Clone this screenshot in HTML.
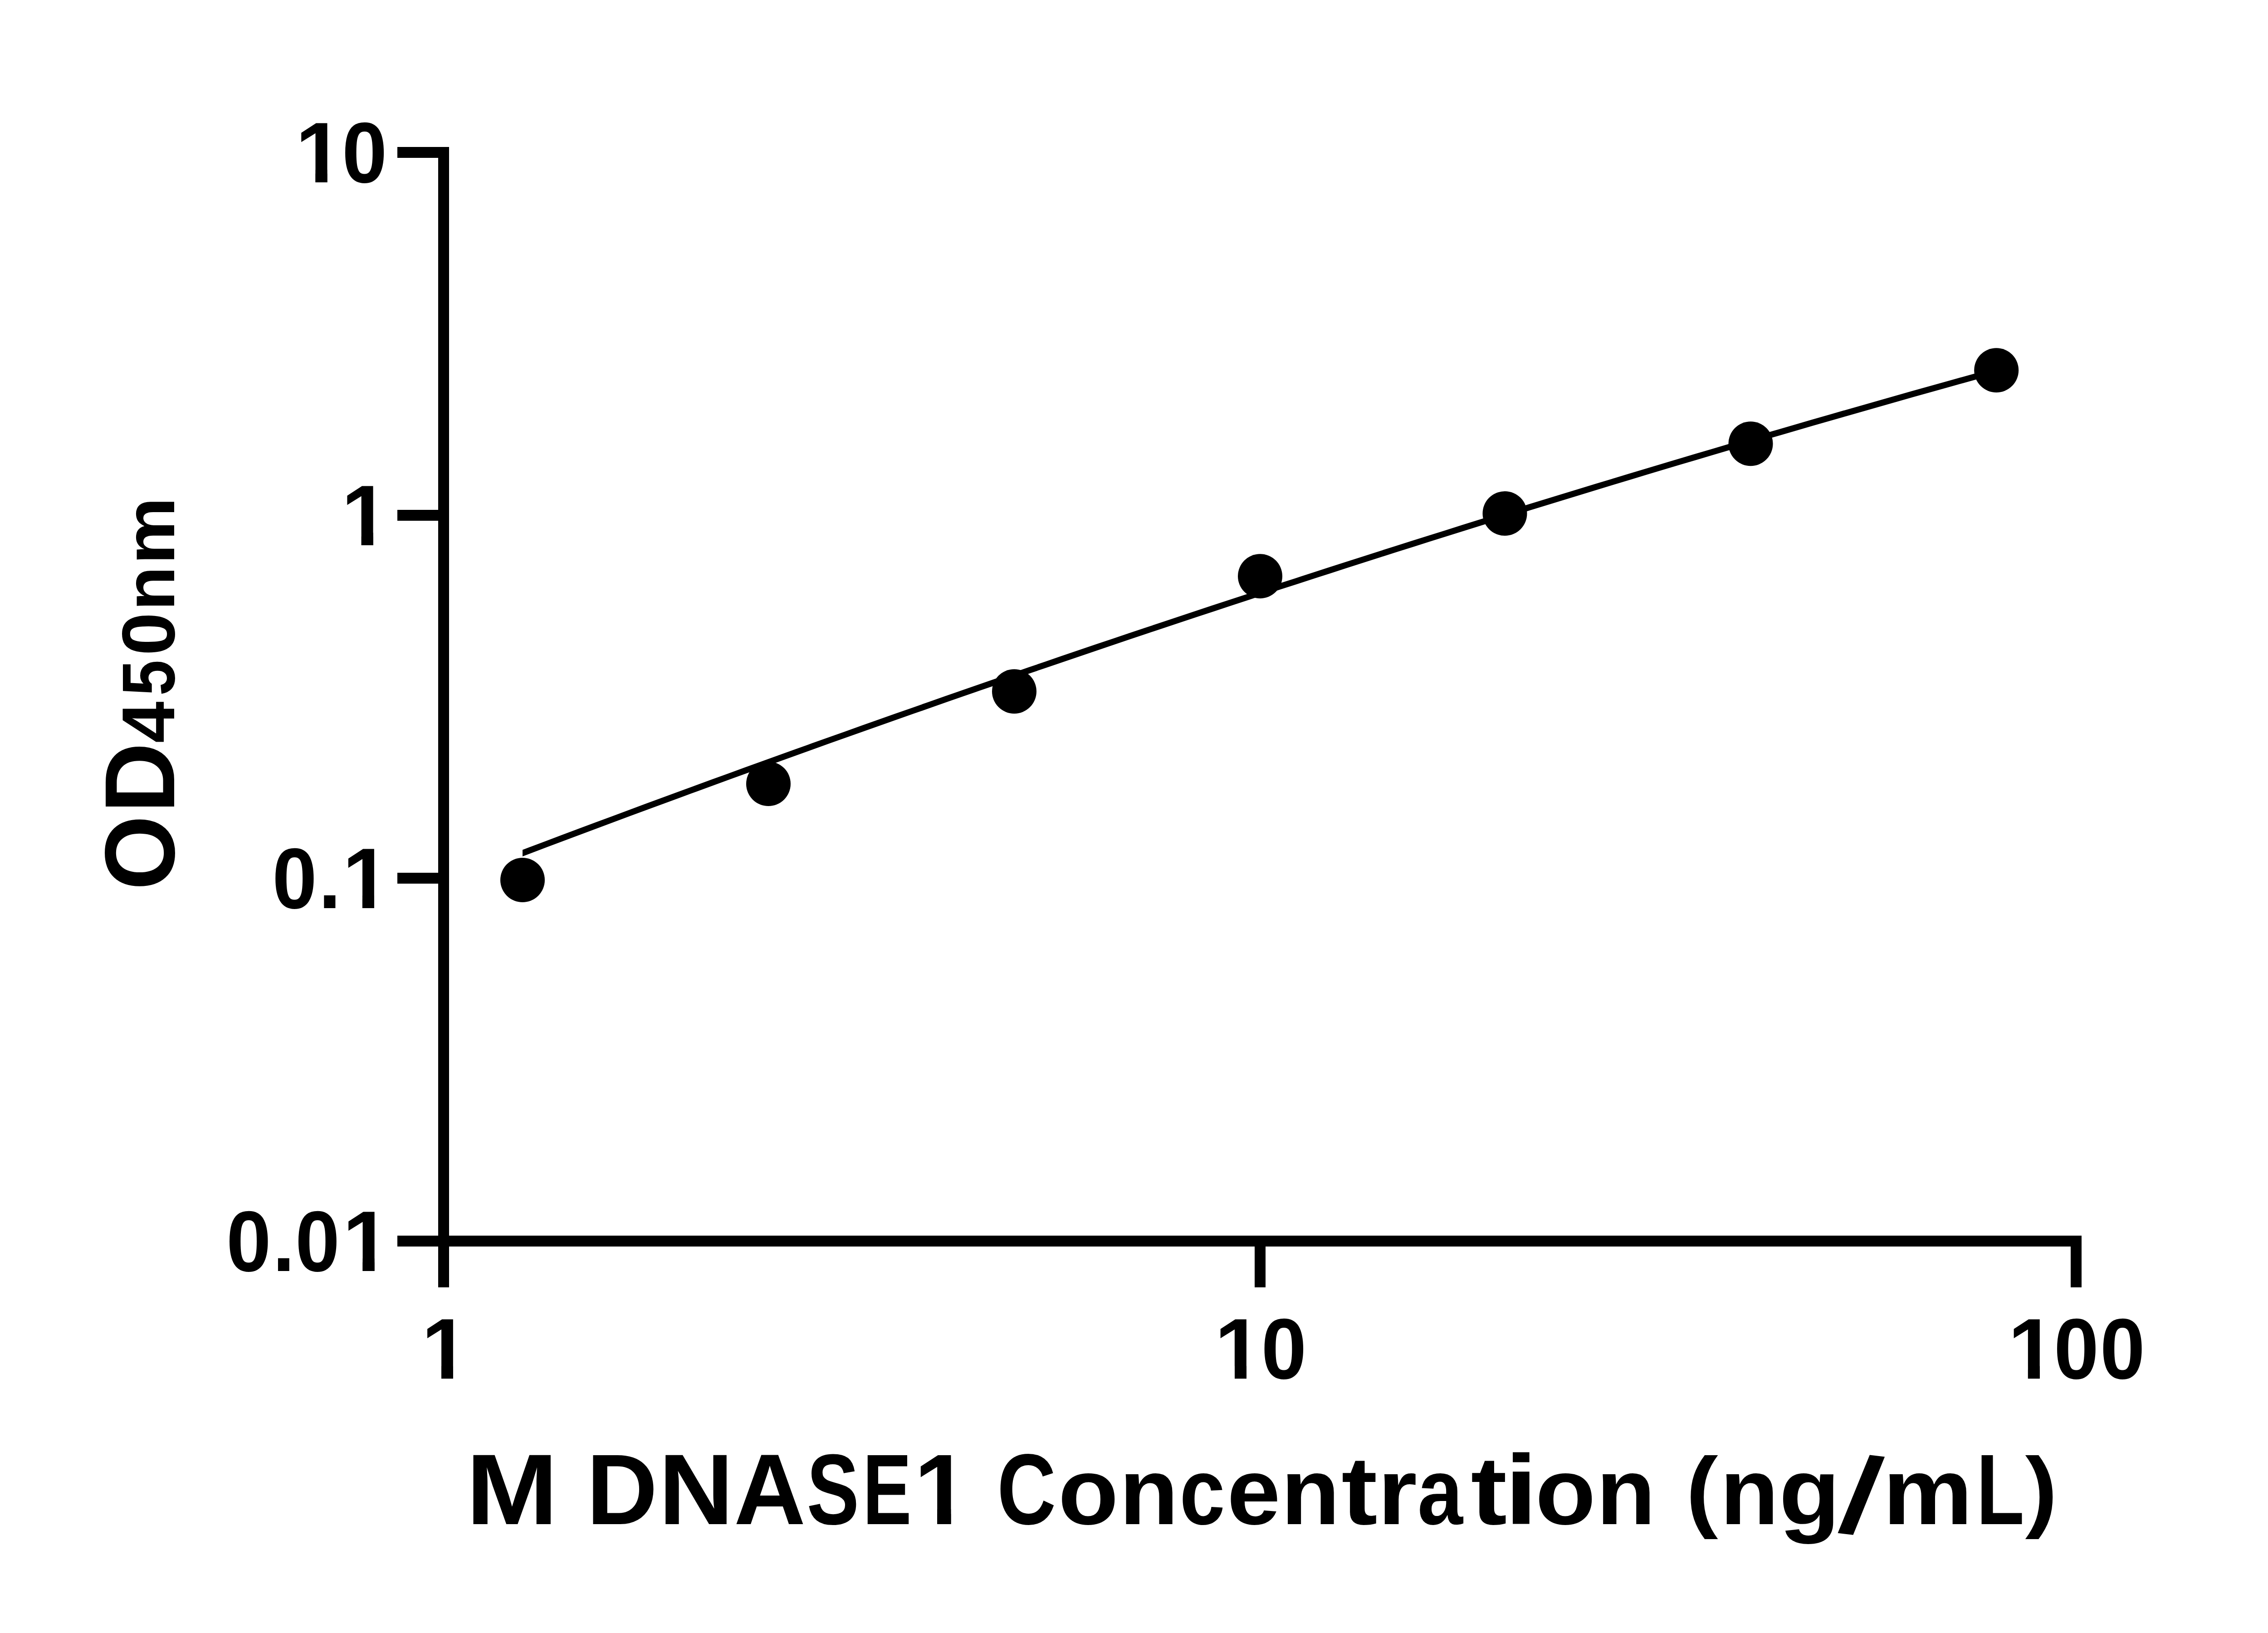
<!DOCTYPE html>
<html><head><meta charset="utf-8"><title>M DNASE1 standard curve</title><style>
html,body{margin:0;padding:0;background:#fff;overflow:hidden;}
svg{display:block;}
text{font-family:"Liberation Sans",sans-serif;font-weight:bold;fill:#000;font-kerning:none;}
</style></head><body>
<svg width="5130" height="3600" viewBox="0 0 5130 3600">
<rect x="0" y="0" width="5130" height="3600" fill="#fff"/>
<rect x="966" y="324" width="24" height="2514" fill="#000"/>
<rect x="876" y="324" width="114" height="24" fill="#000"/>
<rect x="876" y="1124" width="114" height="24" fill="#000"/>
<rect x="876" y="1924" width="114" height="24" fill="#000"/>
<rect x="876" y="2724" width="114" height="24" fill="#000"/>
<rect x="876" y="2724" width="3713" height="24" fill="#000"/>
<rect x="966" y="2724" width="24" height="114" fill="#000"/>
<rect x="2766" y="2724" width="24" height="114" fill="#000"/>
<rect x="4565" y="2724" width="24" height="114" fill="#000"/>
<defs><clipPath id="cc"><rect x="1152" y="0" width="4000" height="3600"/></clipPath></defs>
<path d="M1130.0,1889.0 L1166.8,1875.1 L1203.5,1861.2 L1240.3,1847.4 L1277.0,1833.6 L1313.8,1819.9 L1350.5,1806.2 L1387.3,1792.5 L1424.0,1778.9 L1460.8,1765.4 L1497.5,1751.8 L1534.3,1738.4 L1571.0,1724.9 L1607.8,1711.5 L1644.5,1698.2 L1681.3,1684.9 L1718.0,1671.6 L1754.8,1658.4 L1791.6,1645.2 L1828.3,1632.0 L1865.1,1619.0 L1901.8,1605.9 L1938.6,1592.9 L1975.3,1579.9 L2012.1,1567.0 L2048.8,1554.1 L2085.6,1541.2 L2122.3,1528.4 L2159.1,1515.7 L2195.8,1503.0 L2232.6,1490.3 L2269.3,1477.7 L2306.1,1465.1 L2342.8,1452.5 L2379.6,1440.0 L2416.3,1427.5 L2453.1,1415.1 L2489.9,1402.7 L2526.6,1390.4 L2563.4,1378.1 L2600.1,1365.9 L2636.9,1353.6 L2673.6,1341.5 L2710.4,1329.3 L2747.1,1317.3 L2783.9,1305.2 L2820.6,1293.2 L2857.4,1281.3 L2894.1,1269.3 L2930.9,1257.5 L2967.6,1245.6 L3004.4,1233.9 L3041.1,1222.1 L3077.9,1210.4 L3114.7,1198.7 L3151.4,1187.1 L3188.2,1175.6 L3224.9,1164.0 L3261.7,1152.5 L3298.4,1141.1 L3335.2,1129.7 L3371.9,1118.3 L3408.7,1107.0 L3445.4,1095.7 L3482.2,1084.5 L3518.9,1073.3 L3555.7,1062.1 L3592.4,1051.0 L3629.2,1039.9 L3665.9,1028.9 L3702.7,1017.9 L3739.4,1007.0 L3776.2,996.1 L3813.0,985.2 L3849.7,974.4 L3886.5,963.6 L3923.2,952.9 L3960.0,942.2 L3996.7,931.6 L4033.5,921.0 L4070.2,910.4 L4107.0,899.9 L4143.7,889.4 L4180.5,879.0 L4217.2,868.6 L4254.0,858.2 L4290.7,847.9 L4327.5,837.7 L4364.2,827.4 L4401.0,817.3" fill="none" stroke="#000" stroke-width="13.5" stroke-linejoin="round" clip-path="url(#cc)"/>
<circle cx="1152" cy="1940" r="49" fill="#000"/>
<circle cx="1694" cy="1728" r="49" fill="#000"/>
<circle cx="2236" cy="1524.2" r="49" fill="#000"/>
<circle cx="2778" cy="1270.2" r="49" fill="#000"/>
<circle cx="3317.5" cy="1132" r="49" fill="#000"/>
<circle cx="3859.5" cy="978.2" r="49" fill="#000"/>
<circle cx="4401.2" cy="816.2" r="49" fill="#000"/>
<text><tspan x="651.24" y="402.00" font-size="189.5" textLength="105.44" lengthAdjust="spacingAndGlyphs">1</tspan><tspan x="754.03" y="402.00" font-size="189.5" textLength="99.40" lengthAdjust="spacingAndGlyphs">0</tspan></text>
<text><tspan x="752.56" y="1202.00" font-size="189.5" textLength="105.25" lengthAdjust="spacingAndGlyphs">1</tspan></text>
<text><tspan x="600.30" y="2002.00" font-size="189.5" textLength="98.46" lengthAdjust="spacingAndGlyphs">0</tspan><tspan x="702.33" y="2002.00" font-size="189.5" textLength="49.42" lengthAdjust="spacingAndGlyphs">.</tspan><tspan x="754.91" y="2002.00" font-size="189.5" textLength="104.88" lengthAdjust="spacingAndGlyphs">1</tspan></text>
<text><tspan x="498.88" y="2802.00" font-size="189.5" textLength="98.70" lengthAdjust="spacingAndGlyphs">0</tspan><tspan x="601.07" y="2802.00" font-size="189.5" textLength="48.83" lengthAdjust="spacingAndGlyphs">.</tspan><tspan x="651.03" y="2802.00" font-size="189.5" textLength="98.00" lengthAdjust="spacingAndGlyphs">0</tspan><tspan x="755.22" y="2802.00" font-size="189.5" textLength="105.62" lengthAdjust="spacingAndGlyphs">1</tspan></text>
<text><tspan x="929.15" y="3039.30" font-size="189.5" textLength="104.52" lengthAdjust="spacingAndGlyphs">1</tspan></text>
<text><tspan x="2677.86" y="3039.30" font-size="189.5" textLength="105.25" lengthAdjust="spacingAndGlyphs">1</tspan><tspan x="2780.59" y="3039.30" font-size="189.5" textLength="99.98" lengthAdjust="spacingAndGlyphs">0</tspan></text>
<text><tspan x="4426.79" y="3039.30" font-size="189.5" textLength="105.07" lengthAdjust="spacingAndGlyphs">1</tspan><tspan x="4527.96" y="3039.30" font-size="189.5" textLength="99.05" lengthAdjust="spacingAndGlyphs">0</tspan><tspan x="4629.65" y="3039.30" font-size="189.5" textLength="99.17" lengthAdjust="spacingAndGlyphs">0</tspan></text>
<text><tspan x="1027.30" y="3359.50" font-size="221" textLength="203.00" lengthAdjust="spacingAndGlyphs">M</tspan> <tspan x="1292.99" y="3359.50" font-size="221" textLength="156.61" lengthAdjust="spacingAndGlyphs">D</tspan><tspan x="1452.10" y="3359.50" font-size="221" textLength="165.22" lengthAdjust="spacingAndGlyphs">N</tspan><tspan x="1617.95" y="3359.50" font-size="221" textLength="158.13" lengthAdjust="spacingAndGlyphs">A</tspan><tspan x="1778.41" y="3359.50" font-size="221" textLength="115.56" lengthAdjust="spacingAndGlyphs">S</tspan><tspan x="1901.91" y="3359.50" font-size="221" textLength="107.59" lengthAdjust="spacingAndGlyphs">E</tspan><tspan x="2014.84" y="3359.50" font-size="221" textLength="122.55" lengthAdjust="spacingAndGlyphs">1</tspan> <tspan x="2198.32" y="3359.50" font-size="221" textLength="129.90" lengthAdjust="spacingAndGlyphs">C</tspan><tspan x="2332.69" y="3359.50" font-size="208.5" textLength="133.01" lengthAdjust="spacingAndGlyphs">o</tspan><tspan x="2467.65" y="3359.50" font-size="208.5" textLength="130.16" lengthAdjust="spacingAndGlyphs">n</tspan><tspan x="2600.47" y="3359.50" font-size="208.5" textLength="100.10" lengthAdjust="spacingAndGlyphs">c</tspan><tspan x="2705.35" y="3359.50" font-size="208.5" textLength="117.47" lengthAdjust="spacingAndGlyphs">e</tspan><tspan x="2824.32" y="3359.50" font-size="208.5" textLength="129.53" lengthAdjust="spacingAndGlyphs">n</tspan><tspan x="2957.19" y="3359.50" font-size="214" textLength="79.42" lengthAdjust="spacingAndGlyphs">t</tspan><tspan x="3037.30" y="3359.50" font-size="208.5" textLength="86.77" lengthAdjust="spacingAndGlyphs">r</tspan><tspan x="3124.93" y="3359.50" font-size="208.5" textLength="100.03" lengthAdjust="spacingAndGlyphs">a</tspan><tspan x="3242.58" y="3359.50" font-size="214" textLength="79.75" lengthAdjust="spacingAndGlyphs">t</tspan><tspan x="3316.47" y="3359.50" font-size="218" textLength="74.11" lengthAdjust="spacingAndGlyphs">i</tspan><tspan x="3384.79" y="3359.50" font-size="208.5" textLength="133.01" lengthAdjust="spacingAndGlyphs">o</tspan><tspan x="3519.31" y="3359.50" font-size="208.5" textLength="130.54" lengthAdjust="spacingAndGlyphs">n</tspan> <tspan x="3716.71" y="3352.20" font-size="199" textLength="70.80" lengthAdjust="spacingAndGlyphs">(</tspan><tspan x="3792.04" y="3359.50" font-size="208.5" textLength="129.40" lengthAdjust="spacingAndGlyphs">n</tspan><tspan x="3922.06" y="3359.50" font-size="208.5" textLength="134.70" lengthAdjust="spacingAndGlyphs">g</tspan><tspan x="4049.60" y="3374.70" font-size="240" rotate="8" textLength="80.02" lengthAdjust="spacingAndGlyphs">/</tspan><tspan x="4150.94" y="3359.50" font-size="208.5" textLength="197.75" lengthAdjust="spacingAndGlyphs">m</tspan><tspan x="4357.02" y="3359.50" font-size="221" textLength="105.70" lengthAdjust="spacingAndGlyphs">L</tspan><tspan x="4464.69" y="3352.20" font-size="199" textLength="71.15" lengthAdjust="spacingAndGlyphs">)</tspan></text>
<text transform="translate(384.2 0) rotate(-90)"><tspan x="-1962.39" y="0.00" font-size="219.2" textLength="164.79" lengthAdjust="spacingAndGlyphs">O</tspan><tspan x="-1792.51" y="0.00" font-size="219.2" textLength="155.55" lengthAdjust="spacingAndGlyphs">D</tspan><tspan x="-1638.09" y="0.00" font-size="165.5" textLength="91.58" lengthAdjust="spacingAndGlyphs">4</tspan><tspan x="-1533.86" y="0.00" font-size="165.5" textLength="78.80" lengthAdjust="spacingAndGlyphs">5</tspan><tspan x="-1445.27" y="0.00" font-size="165.5" textLength="95.19" lengthAdjust="spacingAndGlyphs">0</tspan><tspan x="-1346.28" y="0.00" font-size="155" textLength="98.03" lengthAdjust="spacingAndGlyphs">n</tspan><tspan x="-1244.52" y="0.00" font-size="155" textLength="148.69" lengthAdjust="spacingAndGlyphs">m</tspan></text>
<rect x="660.497" y="374.241" width="34.991" height="33.311" fill="#fff"/>
<rect x="721.500" y="374.241" width="32.492" height="33.311" fill="#fff"/>
<rect x="695.488" y="374.241" width="26.012" height="27.759" fill="#000"/>
<rect x="761.804" y="1174.241" width="34.930" height="33.311" fill="#fff"/>
<rect x="822.700" y="1174.241" width="32.435" height="33.311" fill="#fff"/>
<rect x="796.734" y="1174.241" width="25.966" height="27.759" fill="#000"/>
<rect x="764.117" y="1974.241" width="34.808" height="33.311" fill="#fff"/>
<rect x="824.800" y="1974.241" width="32.321" height="33.311" fill="#fff"/>
<rect x="798.924" y="1974.241" width="25.876" height="27.759" fill="#000"/>
<rect x="764.491" y="2774.241" width="35.052" height="33.311" fill="#fff"/>
<rect x="825.600" y="2774.241" width="32.548" height="33.311" fill="#fff"/>
<rect x="799.543" y="2774.241" width="26.057" height="27.759" fill="#000"/>
<rect x="938.330" y="3011.541" width="34.686" height="33.311" fill="#fff"/>
<rect x="998.800" y="3011.541" width="32.208" height="33.311" fill="#fff"/>
<rect x="973.015" y="3011.541" width="25.785" height="27.759" fill="#000"/>
<rect x="2687.104" y="3011.541" width="34.930" height="33.311" fill="#fff"/>
<rect x="2748.000" y="3011.541" width="32.435" height="33.311" fill="#fff"/>
<rect x="2722.034" y="3011.541" width="25.966" height="27.759" fill="#000"/>
<rect x="4436.010" y="3011.541" width="34.869" height="33.311" fill="#fff"/>
<rect x="4496.800" y="3011.541" width="32.378" height="33.311" fill="#fff"/>
<rect x="4470.879" y="3011.541" width="25.921" height="27.759" fill="#000"/>
<rect x="2025.596" y="3327.127" width="40.670" height="38.848" fill="#fff"/>
<rect x="2096.500" y="3327.127" width="37.765" height="38.848" fill="#fff"/>
<rect x="2066.266" y="3327.127" width="30.234" height="32.373" fill="#000"/>
</svg></body></html>
